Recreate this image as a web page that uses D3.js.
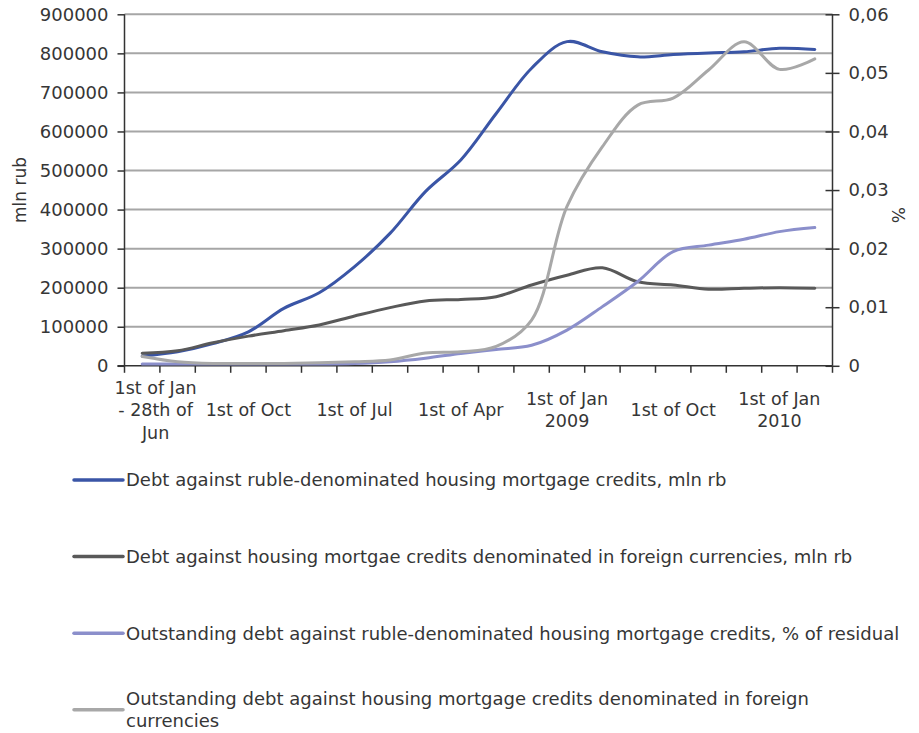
<!DOCTYPE html>
<html>
<head>
<meta charset="utf-8">
<script src="https://cdn.jsdelivr.net/npm/d3@7"></script>
<style>
  body { margin: 0; background: #fff; }
  svg text { font-family: "DejaVu Sans", sans-serif; fill: #363636; }
</style>
</head>
<body>
<div id="chart"></div>
<script>
// categories (quarterly, monthly at the end)
var categories = ["1st of Jan - 28th of Jun", "1st of Apr", "1st of Jul", "1st of Oct",
    "1st of Jan", "1st of Apr", "1st of Jul", "1st of Oct",
    "1st of Jan", "1st of Apr", "1st of Jul", "1st of Oct",
    "1st of Jan 2009", "1st of Apr", "1st of Jul", "1st of Oct",
    "1st of Nov", "1st of Dec", "1st of Jan 2010", "1st of Feb"];

// shown tick labels (every third category), already wrapped as on the picture
var tickIndex = [0, 3, 6, 9, 12, 15, 18];
var tickLabels = [["1st of Jan", "- 28th of", "Jun"], ["1st of Oct"], ["1st of Jul"], ["1st of Apr"],
    ["1st of Jan", "2009"], ["1st of Oct"], ["1st of Jan", "2010"]];

// mln rb, left axis
var rubleDebt = [25000, 36000, 57000, 87000, 147000, 187000, 254000, 339000, 446000, 527000,
    646000, 762000, 830000, 804000, 791000, 797000, 801000, 804000, 813000, 810000];
var foreignDebt = [32000, 38500, 59000, 76000, 90000, 104500, 127500, 149000, 166000, 170000,
    177000, 207000, 232000, 251000, 215000, 207000, 196000, 198500, 200000, 198500];

// %, right axis
var rubleOutstanding = [0.0003, 0.0003, 0.0003, 0.0003, 0.0003, 0.0003, 0.0004, 0.0007, 0.0013, 0.0021,
    0.0028, 0.0035, 0.0061, 0.0101, 0.0144, 0.0195, 0.0206, 0.0216, 0.0229, 0.0236];
var foreignOutstanding = [0.0016, 0.0007, 0.0004, 0.0004, 0.0004, 0.0005, 0.0007, 0.0010, 0.0022, 0.0024,
    0.0033, 0.0078, 0.0272, 0.0374, 0.0445, 0.0457, 0.0505, 0.0553, 0.0506, 0.0524];

var leftTicks = [0, 100000, 200000, 300000, 400000, 500000, 600000, 700000, 800000, 900000];
var rightTicks = [0, 0.01, 0.02, 0.03, 0.04, 0.05, 0.06];

var series = [
    {name: "Debt against ruble-denominated housing mortgage credits, mln rb", values: rubleDebt, axis: "left", color: "#3a55a6"},
    {name: "Debt against housing mortgae credits denominated in foreign currencies, mln rb", values: foreignDebt, axis: "left", color: "#595959"},
    {name: "Outstanding debt against ruble-denominated housing mortgage credits, % of residual", values: rubleOutstanding, axis: "right", color: "#8b8fcb"},
    {name: "Outstanding debt against housing mortgage credits denominated in foreign currencies", values: foreignOutstanding, axis: "right", color: "#a8a8a8"}
];

var width = 919, height = 733;
var plot = {left: 124.5, right: 832.5, top: 14.3, bottom: 365.8};

var svg = d3.select("#chart").append("svg")
    .attr("width", width)
    .attr("height", height);

var x = d3.scaleBand()
    .domain(d3.range(categories.length))
    .range([plot.left, plot.right]);

var yLeft = d3.scaleLinear().domain([0, 900000]).range([plot.bottom, plot.top]);
var yRight = d3.scaleLinear().domain([0, 0.06]).range([plot.bottom, plot.top]);

function cx(i) { return x(i) + x.bandwidth() / 2; }

// gridlines
svg.append("g")
    .selectAll("line")
    .data(leftTicks.slice(1))
    .enter().append("line")
    .attr("x1", plot.left).attr("x2", plot.right)
    .attr("y1", function(d) { return yLeft(d); })
    .attr("y2", function(d) { return yLeft(d); })
    .attr("stroke", "#a6a6a6")
    .attr("stroke-width", 2);

// left axis
var leftAxis = svg.append("g")
    .attr("transform", "translate(" + plot.left + ",0)")
    .call(d3.axisLeft(yLeft).tickValues(leftTicks).tickFormat(d3.format("d")).tickSize(7).tickPadding(9));

// right axis
var rightAxis = svg.append("g")
    .attr("transform", "translate(" + plot.right + ",0)")
    .call(d3.axisRight(yRight).tickValues(rightTicks)
        .tickFormat(function(d) { return d === 0 ? "0" : d3.format(".2f")(d).replace(".", ","); })
        .tickSize(7).tickPadding(9));
rightAxis.selectAll(".tick line").attr("x1", -7);

// bottom axis: ticks at band boundaries
var bottom = svg.append("g").attr("class", "bottom");
bottom.append("line")
    .attr("x1", plot.left - 7).attr("x2", plot.right)
    .attr("y1", plot.bottom).attr("y2", plot.bottom);
bottom.selectAll("line.tk")
    .data(d3.range(categories.length + 1))
    .enter().append("line")
    .attr("class", "tk")
    .attr("x1", function(d) { return plot.left + d * x.bandwidth(); })
    .attr("x2", function(d) { return plot.left + d * x.bandwidth(); })
    .attr("y1", plot.bottom).attr("y2", plot.bottom + 7);
bottom.selectAll("line").attr("stroke", "#333").attr("stroke-width", 1.5);

[leftAxis, rightAxis].forEach(function(a) {
    a.select(".domain").attr("stroke", "#333").attr("stroke-width", 1.5);
    a.selectAll(".tick line").attr("stroke", "#333").attr("stroke-width", 1.5);
    a.selectAll(".tick text").attr("fill", "#363636").style("font-family", "DejaVu Sans").style("font-size", "18px");
});
leftAxis.select(".domain").attr("d", "M0," + plot.top + "V" + plot.bottom);
rightAxis.select(".domain").attr("d", "M0," + plot.top + "V" + plot.bottom);

// x tick labels
var labels = svg.append("g")
    .selectAll("text")
    .data(tickIndex)
    .enter().append("text")
    .attr("text-anchor", "middle")
    .style("font-size", "17.5px")
    .attr("transform", function(d) { return "translate(" + cx(d) + ",410)"; });
labels.each(function(d, i) {
    var lines = tickLabels[i];
    var t = d3.select(this);
    lines.forEach(function(l, j) {
        t.append("tspan")
            .attr("x", 0)
            .attr("y", (j - (lines.length - 1) / 2) * 22.5)
            .attr("dy", "0.35em")
            .text(l);
    });
    // keep the label from sticking out left of the plot
    var bb = this.getBBox();
    var left = cx(d) + bb.x;
    if (left < plot.left - 10) {
        t.attr("transform", "translate(" + (cx(d) + (plot.left - 10 - left)) + ",410)");
    }
});

// axis titles
svg.append("text")
    .attr("transform", "translate(20,190) rotate(-90)")
    .attr("text-anchor", "middle")
    .attr("dy", "0.35em")
    .style("font-size", "17px")
    .text("mln rub");
svg.append("text")
    .attr("transform", "translate(898,215) rotate(90)")
    .attr("text-anchor", "middle")
    .attr("dy", "0.35em")
    .style("font-size", "17px")
    .text("%");

// lines
series.forEach(function(s) {
    var y = s.axis === "left" ? yLeft : yRight;
    var line = d3.line()
        .x(function(d, i) { return cx(i); })
        .y(function(d) { return y(d); })
        .curve(d3.curveCatmullRom.alpha(0.5));
    svg.append("path")
        .datum(s.values)
        .attr("d", line)
        .attr("fill", "none")
        .attr("stroke", s.color)
        .attr("stroke-width", 3)
        .attr("stroke-linejoin", "round")
        .attr("stroke-linecap", "round");
});

// legend
var legend = svg.append("g");
series.forEach(function(s, i) {
    var ly = 480 + i * 76.6;
    var g = legend.append("g").attr("transform", "translate(0," + ly + ")");
    g.append("line")
        .attr("x1", 74).attr("x2", 123)
        .attr("y1", 0).attr("y2", 0)
        .attr("stroke", s.color)
        .attr("stroke-width", 3.5)
        .attr("stroke-linecap", "round");
    var t = g.append("text")
        .attr("x", 126)
        .style("font-size", "18px");
    // wrap at available width
    var words = s.name.split(" ");
    var lines = [], cur = [];
    var probe = t.append("tspan");
    words.forEach(function(w) {
        probe.text(cur.concat([w]).join(" "));
        if (probe.node().getComputedTextLength() > 777 && cur.length) {
            lines.push(cur.join(" "));
            cur = [w];
        } else {
            cur.push(w);
        }
    });
    lines.push(cur.join(" "));
    probe.remove();
    lines.forEach(function(l, j) {
        t.append("tspan")
            .attr("x", 126)
            .attr("y", (j - (lines.length - 1) / 2) * 22)
            .attr("dy", "0.35em")
            .text(l);
    });
});
</script>
</body>
</html>
